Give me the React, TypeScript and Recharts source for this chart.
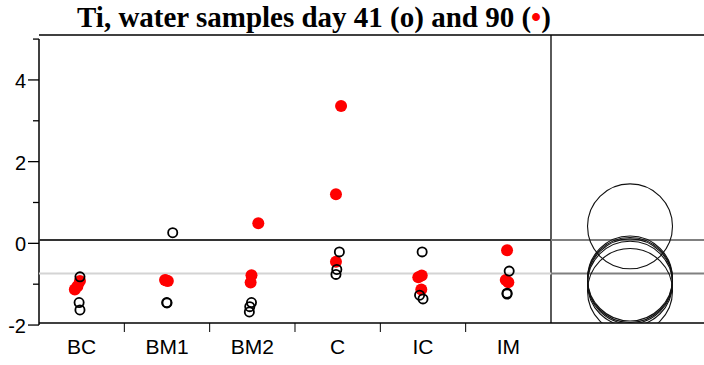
import {
  ComposedChart,
  Scatter,
  XAxis,
  YAxis,
  ReferenceLine,
} from "recharts";

const categories = ["BC", "BM1", "BM2", "C", "IC", "IM"];

// day 41 (open circles): x = category position incl. jitter, y = value
const day41X = [0.48, 0.47, 0.48, 1.567, 1.497, 1.5, 2.49, 2.47, 2.465, 3.52, 3.49, 3.48, 4.49, 4.46, 4.5, 5.51, 5.485, 5.485];
const day41Y = [-0.82, -1.45, -1.63, 0.26, -1.45, -1.46, -1.45, -1.55, -1.68, -0.21, -0.64, -0.76, -0.21, -1.27, -1.36, -0.68, -1.22, -1.24];

// day 90 (red dots)
const day90X = [0.48, 0.45, 0.42, 1.477, 1.51, 1.49, 2.49, 2.48, 2.57, 3.54, 3.48, 3.48, 4.445, 4.485, 4.48, 5.485, 5.5, 5.47];
const day90Y = [-0.92, -1.05, -1.13, -0.9, -0.92, -0.91, -0.78, -0.96, 0.49, 3.36, 1.2, -0.45, -0.83, -0.79, -1.13, -0.17, -0.95, -0.9];

const yTicks = [-2, -1, 0, 1, 2, 3, 4, 5];
const xTicks = [0.5, 1, 1.5, 2, 2.5, 3, 3.5, 4, 4.5, 5, 5.5];

const refLevel = 0.08;
const circleRadius = 1.04; // comparison circle radius, y units

const W = 704;
const H = 365;
const TOP = 35;
const X_AXIS_H = 42;
const Y_AXIS_W = 39;
const Y_MIN = -1.95;
const Y_MAX = 5.1;
const X_MAX = 7.793;
const CIRCLE_X = 6.926;
const PX_PER_UNIT = (H - TOP - X_AXIS_H) / (Y_MAX - Y_MIN);

const FONT = "'Liberation Sans', Arial, sans-serif";

const toPoints = (xs: number[], ys: number[]) => xs.map((x, i) => ({ x, y: ys[i] }));
const day41 = toPoints(day41X, day41Y);
const day90 = toPoints(day90X, day90Y);
const all = [...day41, ...day90];

const groupMeans = categories.map((_c, g) => {
  const pts = all.filter((p) => Math.floor(p.x) === g);
  return { x: CIRCLE_X, y: pts.reduce((s, p) => s + p.y, 0) / pts.length };
});
const grandMean = all.reduce((s, p) => s + p.y, 0) / all.length;

function XTick(props: any) {
  const { x, y, payload } = props;
  const v = payload.value;
  if (Number.isInteger(v)) {
    return <line x1={x} x2={x} y1={y} y2={y + 9} stroke="#000" strokeWidth={1} />;
  }
  return (
    <text x={x} y={y + 31} textAnchor="middle" fontFamily={FONT} fontSize={21} fill="#000">
      {categories[Math.floor(v)]}
    </text>
  );
}

function YTick(props: any) {
  const { x, y, payload } = props;
  const v = payload.value;
  const major = v % 2 === 0;
  return (
    <g>
      <line x1={x - (major ? 11 : 6)} x2={x} y1={y} y2={y} stroke="#000" strokeWidth={1.3} />
      {major && (
        <text x={x - 13} y={y + 8} textAnchor="end" fontFamily={FONT} fontSize={20} fill="#000">
          {v}
        </text>
      )}
    </g>
  );
}

const openDot = (p: any) => (
  <circle cx={p.cx} cy={p.cy} r={4.6} fill="none" stroke="#000" strokeWidth={1.8} />
);
const redDot = (p: any) => <circle cx={p.cx} cy={p.cy} r={6} fill="#ff0000" />;
const compCircle = (p: any) => (
  <circle cx={p.cx} cy={p.cy} r={circleRadius * PX_PER_UNIT} fill="none" stroke="#111" strokeWidth={1.1} />
);

export default function App() {
  return (
    <div style={{ position: "absolute", left: 0, top: 0, width: W, height: H, background: "#fff" }}>
      <ComposedChart width={W} height={H} margin={{ top: TOP, right: 0, bottom: 0, left: 0 }}>
        <XAxis
          type="number"
          dataKey="x"
          domain={[0, X_MAX]}
          ticks={xTicks}
          interval={0}
          height={X_AXIS_H}
          tickSize={0}
          tickMargin={0}
          tickLine={false}
          axisLine={{ stroke: "#000", strokeWidth: 1.5 }}
          tick={<XTick />}
          allowDataOverflow
        />
        <YAxis
          type="number"
          dataKey="y"
          domain={[Y_MIN, Y_MAX]}
          ticks={yTicks}
          interval={0}
          width={Y_AXIS_W}
          tickSize={0}
          tickMargin={0}
          tickLine={false}
          axisLine={false}
          tick={<YTick />}
          allowDataOverflow
        />
        <ReferenceLine
          segment={[{ x: 0, y: -2 }, { x: 0, y: 5 }]}
          stroke="#000"
          strokeWidth={1.5}
          ifOverflow="visible"
        />
        <ReferenceLine y={Y_MAX} stroke="#000" strokeWidth={1.5} ifOverflow="visible" />
        <ReferenceLine x={6} stroke="#000" strokeWidth={1.3} />
        <ReferenceLine
          segment={[{ x: 0, y: grandMean }, { x: 6, y: grandMean }]}
          stroke="#d4d4d4"
          strokeWidth={2}
        />
        <ReferenceLine
          segment={[{ x: 0, y: refLevel }, { x: 6, y: refLevel }]}
          stroke="#333"
          strokeWidth={2}
        />
        <ReferenceLine
          segment={[{ x: 6, y: grandMean }, { x: X_MAX, y: grandMean }]}
          stroke="#808080"
          strokeWidth={2}
        />
        <ReferenceLine
          segment={[{ x: 6, y: refLevel }, { x: X_MAX, y: refLevel }]}
          stroke="#808080"
          strokeWidth={2}
        />
        <Scatter data={day90} shape={redDot} isAnimationActive={false} />
        <Scatter data={day41} shape={openDot} isAnimationActive={false} />
        <Scatter data={groupMeans} shape={compCircle} isAnimationActive={false} />
      </ComposedChart>
      <svg width={W} height={40} style={{ position: "absolute", left: 0, top: 0 }}>
        <text
          x={77}
          y={27}
          fontFamily="'Liberation Serif', 'Times New Roman', serif"
          fontWeight="bold"
          fontSize={29}
          fill="#000"
        >
          Ti, water samples day 41 (o) and 90 (<tspan fill="#ff0000">•</tspan>)
        </text>
      </svg>
    </div>
  );
}
